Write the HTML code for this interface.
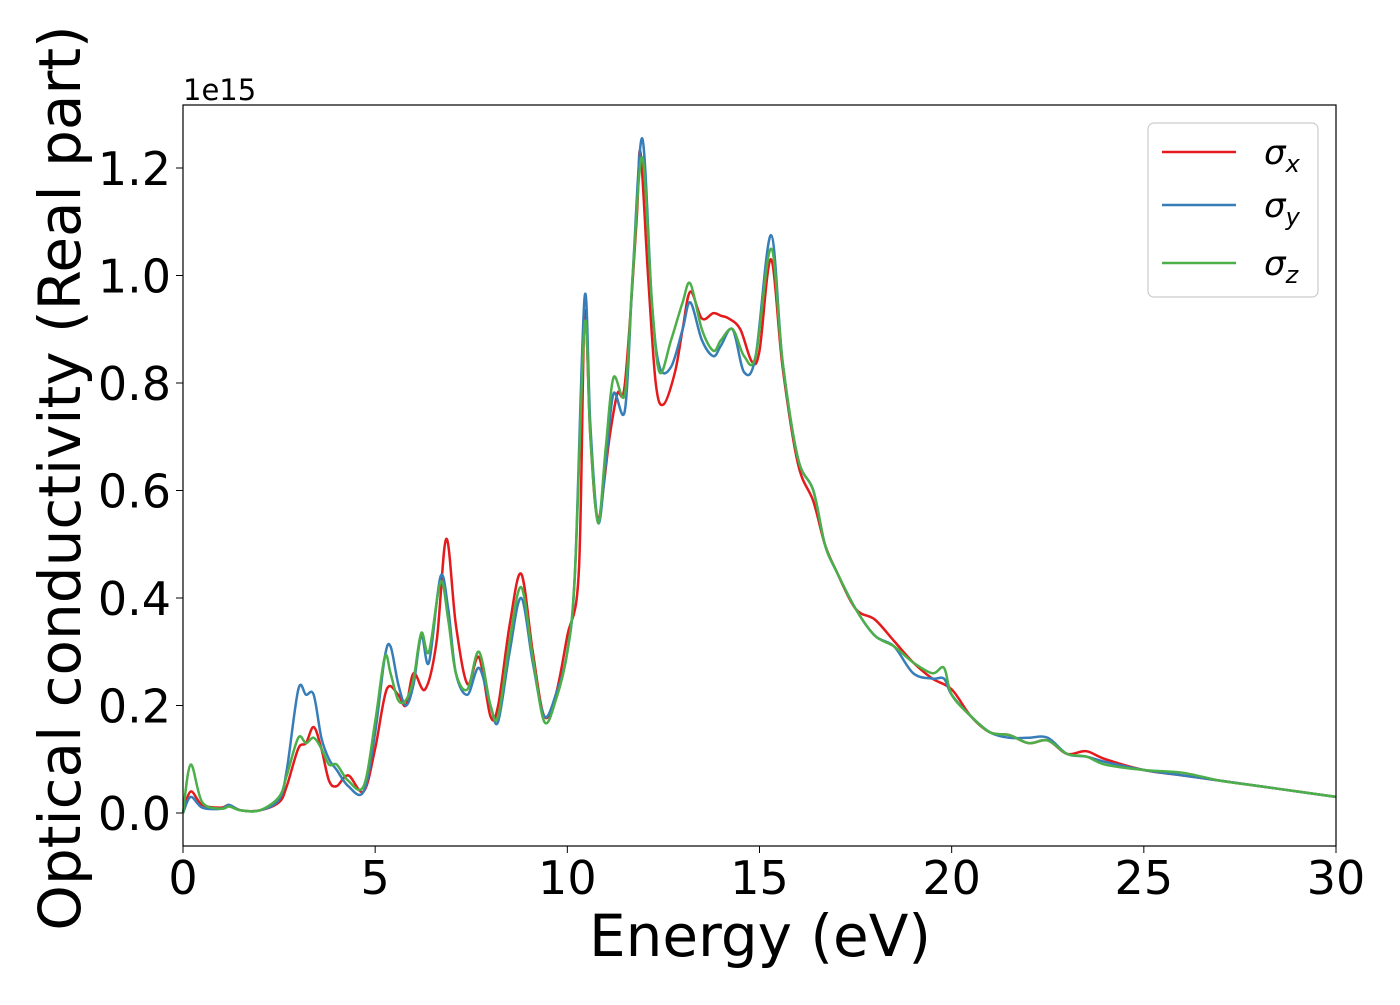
<!DOCTYPE html>
<html><head><meta charset="utf-8"><style>
body{margin:0;background:#fff;}
svg text{font-family:"DejaVu Sans","Liberation Sans",sans-serif;}
</style></head><body>
<svg id="chart" width="1400" height="1000" viewBox="0 0 1400 1000" xmlns="http://www.w3.org/2000/svg">
<rect width="1400" height="1000" fill="#fff"/>
<g id="grid-axes"></g>
<g id="series"></g>
<rect x="183" y="105" width="1153" height="741" fill="none" stroke="#000" stroke-width="1.2"/>
<text x="183" y="100" font-size="29">1e15</text>
<text x="760" y="956" font-size="58" text-anchor="middle">Energy (eV)</text>
<text transform="translate(80,478) rotate(-90)" font-size="58" text-anchor="middle">Optical conductivity (Real part)</text>
<g>
<rect x="1148" y="123" width="170" height="174" rx="6" fill="#fff" fill-opacity="0.8" stroke="#ccc" stroke-width="1.2"/>
<g><line x1="1162" y1="152" x2="1236" y2="152" stroke="#e41a1c" stroke-width="2.5"/><text x="1264" y="164" font-size="34" font-style="italic">σ<tspan font-size="24" dy="8">x</tspan></text></g>
<g><line x1="1162" y1="205" x2="1236" y2="205" stroke="#377eb8" stroke-width="2.5"/><text x="1264" y="217" font-size="34" font-style="italic">σ<tspan font-size="24" dy="8">y</tspan></text></g>
<g><line x1="1162" y1="263" x2="1236" y2="263" stroke="#4daf4a" stroke-width="2.5"/><text x="1264" y="275" font-size="34" font-style="italic">σ<tspan font-size="24" dy="8">z</tspan></text></g>
</g>
</svg>
<script>
const xTicks=[0,5,10,15,20,25,30];
const yTicks=[0.0,0.2,0.4,0.6,0.8,1.0,1.2];
const yTickLabels=["0.0","0.2","0.4","0.6","0.8","1.0","1.2"];
const energyX=[0,0.2,0.5,1,1.2,1.5,2,2.5,2.7,3.0,3.2,3.4,3.6,3.8,4.0,4.3,4.7,5.0,5.3,5.6,5.8,6.0,6.3,6.6,6.85,7.1,7.4,7.7,8.0,8.2,8.5,8.8,9.1,9.4,9.7,10.0,10.3,10.45,10.6,10.8,11.1,11.3,11.5,11.8,11.9,12.1,12.3,12.5,12.8,13.0,13.2,13.5,13.8,14.0,14.2,14.5,14.8,15.0,15.3,15.6,16,16.4,16.7,17,17.5,18,18.5,19,19.5,20,20.5,21,21.5,22,22.5,23,23.5,24,25,26,27,28,29,30];
const sigmaX=[0,0.04,0.015,0.01,0.015,0.005,0.005,0.02,0.05,0.12,0.13,0.16,0.12,0.06,0.05,0.07,0.04,0.12,0.23,0.22,0.2,0.26,0.23,0.32,0.51,0.35,0.24,0.29,0.18,0.2,0.35,0.445,0.3,0.18,0.22,0.33,0.45,0.93,0.7,0.55,0.7,0.78,0.8,1.1,1.23,1.0,0.8,0.76,0.82,0.9,0.97,0.92,0.93,0.925,0.92,0.9,0.84,0.86,1.03,0.83,0.65,0.58,0.5,0.45,0.38,0.36,0.32,0.28,0.25,0.23,0.18,0.15,0.145,0.13,0.135,0.11,0.115,0.1,0.08,0.07,0.06,0.05,0.04,0.03];
const energyYZ=[0,0.2,0.5,1,1.2,1.5,2,2.5,2.7,3.0,3.2,3.4,3.6,3.8,4.0,4.3,4.7,5.0,5.25,5.4,5.6,5.8,6.0,6.2,6.4,6.7,6.9,7.1,7.4,7.7,8.0,8.2,8.5,8.8,9.1,9.4,9.7,10.0,10.2,10.45,10.6,10.8,11.0,11.2,11.5,11.7,11.95,12.2,12.4,12.7,13.0,13.2,13.5,13.8,14.0,14.3,14.6,14.9,15.3,15.6,16,16.4,16.7,17,17.5,18,18.5,19,19.5,19.8,20,20.5,21,21.5,22,22.5,23,23.5,24,25,26,27,28,29,30];
const sigmaY=[0,0.03,0.01,0.008,0.015,0.005,0.005,0.025,0.08,0.23,0.22,0.22,0.14,0.1,0.08,0.05,0.04,0.15,0.29,0.31,0.24,0.2,0.24,0.33,0.28,0.44,0.38,0.26,0.22,0.27,0.2,0.17,0.3,0.4,0.28,0.18,0.22,0.3,0.45,0.96,0.72,0.54,0.65,0.78,0.75,1.0,1.255,0.95,0.83,0.83,0.9,0.95,0.88,0.85,0.87,0.9,0.82,0.85,1.075,0.84,0.66,0.6,0.5,0.45,0.38,0.33,0.31,0.26,0.25,0.25,0.22,0.18,0.15,0.14,0.14,0.14,0.11,0.105,0.095,0.08,0.07,0.06,0.05,0.04,0.03];
const sigmaZ=[0,0.09,0.02,0.008,0.012,0.005,0.005,0.03,0.07,0.14,0.13,0.14,0.12,0.09,0.09,0.06,0.05,0.17,0.29,0.26,0.21,0.21,0.25,0.335,0.3,0.43,0.36,0.26,0.23,0.3,0.2,0.18,0.32,0.42,0.29,0.17,0.21,0.3,0.45,0.91,0.7,0.54,0.68,0.81,0.78,1.0,1.22,0.95,0.82,0.88,0.95,0.985,0.9,0.86,0.88,0.9,0.85,0.85,1.05,0.84,0.66,0.6,0.5,0.45,0.38,0.33,0.31,0.28,0.26,0.27,0.22,0.18,0.15,0.145,0.13,0.135,0.11,0.105,0.09,0.08,0.075,0.06,0.05,0.04,0.03];

const NS="http://www.w3.org/2000/svg";
const X0=183,X1=1336,Y0v=813,PXPER=537.5;
function sx(e){return X0+(e/30)*(X1-X0);}
function sy(v){return Y0v-v*PXPER;}
const ax=document.getElementById('grid-axes');
xTicks.forEach(t=>{
  const l=document.createElementNS(NS,'line');
  l.setAttribute('x1',sx(t));l.setAttribute('x2',sx(t));l.setAttribute('y1',846);l.setAttribute('y2',853);l.setAttribute('stroke','#000');
  
  
  ax.appendChild(l);
  const tx=document.createElementNS(NS,'text');
  tx.setAttribute('x',sx(t));tx.setAttribute('y',894);tx.setAttribute('font-size','46');tx.setAttribute('text-anchor','middle');
  tx.textContent=String(t);
  
  
  ax.appendChild(tx);
});
yTicks.forEach((t,i)=>{
  const l=document.createElementNS(NS,'line');
  l.setAttribute('x1',176);l.setAttribute('x2',183);l.setAttribute('y1',sy(t));l.setAttribute('y2',sy(t));l.setAttribute('stroke','#000');
  
  
  ax.appendChild(l);
  const tx=document.createElementNS(NS,'text');
  tx.setAttribute('x',171);tx.setAttribute('y',sy(t)+17);tx.setAttribute('font-size','46');tx.setAttribute('text-anchor','end');
  tx.textContent=yTickLabels[i];
  
  
  ax.appendChild(tx);
});
function pathFor(xs,ys){
  const p=xs.map((e,i)=>[sx(e),sy(ys[i])]);
  let d='M'+p[0][0].toFixed(2)+','+p[0][1].toFixed(2);
  for(let i=0;i<p.length-1;i++){
    const a=p[Math.max(i-1,0)],b=p[i],c=p[i+1],n=p[Math.min(i+2,p.length-1)];
    const c1=[b[0]+(c[0]-a[0])/6,b[1]+(c[1]-a[1])/6];
    const c2=[c[0]-(n[0]-b[0])/6,c[1]-(n[1]-b[1])/6];
    d+='C'+c1[0].toFixed(2)+','+c1[1].toFixed(2)+' '+c2[0].toFixed(2)+','+c2[1].toFixed(2)+' '+c[0].toFixed(2)+','+c[1].toFixed(2);
  }
  return d;
}
const sg=document.getElementById('series');
[[energyX,sigmaX,'#e41a1c','series-sigma-x'],[energyYZ,sigmaY,'#377eb8','series-sigma-y'],[energyYZ,sigmaZ,'#4daf4a','series-sigma-z']].forEach(s=>{
  const p=document.createElementNS(NS,'path');
  p.setAttribute('d',pathFor(s[0],s[1]));
  p.setAttribute('fill','none');p.setAttribute('stroke',s[2]);p.setAttribute('stroke-width','2.5');
  
  
  sg.appendChild(p);
});
</script>
</body></html>
